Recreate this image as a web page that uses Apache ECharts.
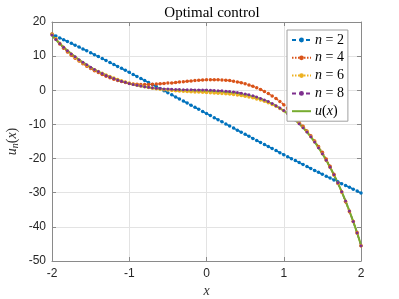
<!DOCTYPE html>
<html><head><meta charset="utf-8">
<script src="https://cdn.jsdelivr.net/npm/echarts@6/dist/echarts.min.js"></script>
<style>html,body{margin:0;padding:0;background:#fff}#c{width:399px;height:299px}</style>
</head><body><div id="c"></div>
<script>
const xs = [-2,-1.95,-1.9,-1.85,-1.8,-1.75,-1.7,-1.65,-1.6,-1.55,-1.5,-1.45,-1.4,-1.35,-1.3,-1.25,-1.2,-1.15,-1.1,-1.05,-1,-0.95,-0.9,-0.85,-0.8,-0.75,-0.7,-0.65,-0.6,-0.55,-0.5,-0.45,-0.4,-0.35,-0.3,-0.25,-0.2,-0.15,-0.1,-0.05,0,0.05,0.1,0.15,0.2,0.25,0.3,0.35,0.4,0.45,0.5,0.55,0.6,0.65,0.7,0.75,0.8,0.85,0.9,0.95,1,1.05,1.1,1.15,1.2,1.25,1.3,1.35,1.4,1.45,1.5,1.55,1.6,1.65,1.7,1.75,1.8,1.85,1.9,1.95,2];
const n2 = [16.4,15.88,15.35,14.82,14.29,13.75,13.2,12.66,12.11,11.55,10.99,10.43,9.87,9.3,8.73,8.16,7.58,7.0,6.42,5.84,5.25,4.66,4.07,3.48,2.88,2.29,1.69,1.09,0.49,-0.12,-0.72,-1.32,-1.93,-2.54,-3.14,-3.75,-4.36,-4.97,-5.58,-6.19,-6.8,-7.41,-8.02,-8.63,-9.24,-9.85,-10.46,-11.06,-11.67,-12.28,-12.88,-13.49,-14.09,-14.69,-15.29,-15.89,-16.48,-17.08,-17.67,-18.26,-18.85,-19.44,-20.02,-20.6,-21.18,-21.76,-22.33,-22.9,-23.47,-24.03,-24.59,-25.15,-25.71,-26.26,-26.8,-27.35,-27.89,-28.42,-28.95,-29.48,-30.1];
const n4 = [16.5,15.01,13.59,12.33,11.22,10.28,9.39,8.55,7.76,7.07,6.38,5.73,5.18,4.61,4.14,3.68,3.26,2.89,2.56,2.27,2.0,1.86,1.75,1.72,1.71,1.73,1.76,1.82,1.9,1.99,2.1,2.17,2.25,2.4,2.5,2.61,2.73,2.85,2.92,2.98,3.05,3.11,3.11,3.1,3.03,2.94,2.83,2.66,2.45,2.22,1.91,1.56,1.18,0.75,0.23,-0.34,-0.97,-1.65,-2.4,-3.26,-4.2,-5.32,-6.51,-7.8,-9.18,-10.51,-11.89,-13.34,-14.86,-16.45,-18.17,-20.14,-22.25,-24.61,-27.14,-29.79,-32.62,-35.54,-38.45,-41.67,-45.5];
const n6 = [16.4,15.06,13.79,12.63,11.52,10.53,9.59,8.75,7.96,7.27,6.63,6.03,5.48,4.96,4.49,4.02,3.61,3.19,2.81,2.44,2.1,1.79,1.5,1.24,1.01,0.81,0.61,0.44,0.3,0.17,0.05,-0.06,-0.15,-0.22,-0.3,-0.37,-0.42,-0.47,-0.53,-0.6,-0.65,-0.71,-0.79,-0.85,-0.92,-1.01,-1.12,-1.24,-1.4,-1.55,-1.74,-1.97,-2.22,-2.52,-2.87,-3.24,-3.67,-4.15,-4.7,-5.31,-6.0,-6.77,-7.61,-8.58,-9.63,-10.81,-12.09,-13.52,-15.06,-16.75,-18.57,-20.54,-22.65,-24.88,-27.29,-29.81,-32.52,-35.39,-38.45,-41.87,-45.5];
const n8 = [16.2,14.91,13.69,12.58,11.57,10.63,9.79,8.95,8.19,7.45,6.76,6.08,5.48,4.88,4.36,3.87,3.46,3.04,2.66,2.32,2.0,1.71,1.47,1.25,1.06,0.89,0.74,0.61,0.5,0.41,0.35,0.3,0.25,0.21,0.17,0.15,0.13,0.12,0.1,0.07,0.05,0.01,-0.04,-0.1,-0.17,-0.26,-0.37,-0.49,-0.65,-0.85,-1.07,-1.33,-1.62,-1.98,-2.37,-2.81,-3.32,-3.88,-4.5,-5.19,-5.95,-6.79,-7.69,-8.7,-9.78,-10.96,-12.24,-13.64,-15.16,-16.8,-18.57,-20.49,-22.55,-24.76,-27.14,-29.69,-32.42,-35.34,-38.45,-41.82,-45.5];
const uExact = [16.0,14.81,13.69,12.63,11.62,10.68,9.79,8.95,8.16,7.42,6.73,6.08,5.48,4.91,4.39,3.9,3.46,3.04,2.66,2.32,2.0,1.71,1.45,1.22,1.01,0.83,0.66,0.52,0.4,0.29,0.2,0.12,0.05,0.0,-0.05,-0.09,-0.12,-0.15,-0.18,-0.22,-0.25,-0.29,-0.34,-0.4,-0.47,-0.56,-0.67,-0.79,-0.95,-1.13,-1.34,-1.59,-1.87,-2.2,-2.57,-2.99,-3.47,-4.0,-4.6,-5.26,-6.0,-6.82,-7.71,-8.7,-9.78,-10.96,-12.24,-13.64,-15.16,-16.8,-18.57,-20.49,-22.55,-24.76,-27.14,-29.69,-32.42,-35.34,-38.45,-41.77,-45.3];
const seriesNames = ['n = 2','n = 4','n = 6','n = 8','u(x)'];
const titleText = 'Optimal control';
const xTicks = [-2,-1,0,1,2];
const yTicks = [-50,-40,-30,-20,-10,0,10,20];

const colors = ['#0072BD','#D95319','#EDB120','#7E2F8E','#77AC30'];
const pairs = arr => xs.map((x,i)=>[x, arr[i]]);
const serif = '"Liberation Serif", "DejaVu Serif", serif';
const sans = '"Liberation Sans", Arial, sans-serif';

const chart = echarts.init(document.getElementById('c'), null, {renderer:'canvas'});
const mk = (name, data, color, type, sym, ss, w) => ({
  name, type:'line', data: pairs(data), xAxisIndex:0, yAxisIndex:0,
  symbol: sym, symbolSize: ss, showSymbol: sym !== 'none',
  itemStyle:{color}, lineStyle:{color, width:w, type},
  emphasis:{disabled:true}, animation:false, clip:true, z: 2
});
const axisCommon = {
  axisLine:{show:true, onZero:false, lineStyle:{color:'#8a8a8a', width:1}},
  axisTick:{show:true, inside:true, length:4, lineStyle:{color:'#8a8a8a'}},
};
chart.setOption({
  backgroundColor:'#fff',
  animation:false,
  title:{text:titleText, top:1, left:207, textAlign:'center', textStyle:{fontFamily:serif, fontWeight:'normal', fontSize:15, color:'#000'}},
  grid:{left:52, right:38, top:22, bottom:38, containLabel:false, outerBoundsMode:'none'},
  legend:{
    orient:'vertical', left:287, top:30, itemWidth:19, itemHeight:6, itemGap:3.8,
    padding:[3,4,3,4], backgroundColor:'#fff', borderColor:'#a0a0a0', borderWidth:1,
    data: seriesNames.map((n,i)=> i===4 ? {name:n, itemStyle:{opacity:0}} : n),
    formatter: name => {
      if (name === 'u(x)') return '{i|u}{r|(}{i|x}{r|)}';
      return '{i|n}{r| = ' + name.split('= ')[1] + '}';
    },
    textStyle:{fontFamily:serif, fontSize:14, lineHeight:12, color:'#000', padding:[0,0,0,-1],
      rich:{i:{fontFamily:serif, fontStyle:'italic', fontSize:14, lineHeight:12}, r:{fontFamily:serif, fontSize:14, lineHeight:12}}}
  },
  xAxis:[
    Object.assign({type:'value', min:-2, max:2, interval:1, position:'bottom',
      name:'x', nameLocation:'middle', nameGap:23, nameMoveOverlap:false,
      nameTextStyle:{fontFamily:serif, fontStyle:'italic', fontSize:14, color:'#333'},
      axisLabel:{fontFamily:sans, fontSize:12, color:'#262626', margin:7},
      splitLine:{show:true, lineStyle:{color:'#e3e3e3', width:1}}}, axisCommon),
    Object.assign({type:'value', min:-2, max:2, interval:1, position:'top',
      axisLabel:{show:false}, splitLine:{show:false}}, axisCommon)
  ],
  yAxis:[
    Object.assign({type:'value', min:-50, max:20, interval:10, position:'left',
      name:'{i|u}{s|n}{r|(}{i|x}{r|)}', nameLocation:'middle', nameGap:32, nameRotate:90, nameMoveOverlap:false,
      nameTextStyle:{color:'#333', rich:{i:{fontFamily:serif, fontStyle:'italic', fontSize:14, color:'#333'}, s:{fontFamily:serif, fontStyle:'italic', fontSize:10, color:'#333', verticalAlign:'bottom', padding:[6,0,0,0]}, r:{fontFamily:serif, fontSize:14, color:'#333'}}},
      axisLabel:{fontFamily:sans, fontSize:12, color:'#262626', margin:6},
      splitLine:{show:true, lineStyle:{color:'#e3e3e3', width:1}}}, axisCommon),
    Object.assign({type:'value', min:-50, max:20, interval:10, position:'right',
      axisLabel:{show:false}, splitLine:{show:false}}, axisCommon)
  ],
  series:[
    mk(seriesNames[0], n2, colors[0], [4,3], 'circle', 3.5, 1.5),
    mk(seriesNames[1], n4, colors[1], [1.5,1.5], 'circle', 3.5, 1.5),
    mk(seriesNames[2], n6, colors[2], [1.5,1.5], 'circle', 3.5, 1.5),
    mk(seriesNames[3], n8, colors[3], [4,3], 'circle', 3, 1.5),
    mk(seriesNames[4], uExact, colors[4], 'solid', 'none', 0, 2)
  ]
});
</script></body></html>
